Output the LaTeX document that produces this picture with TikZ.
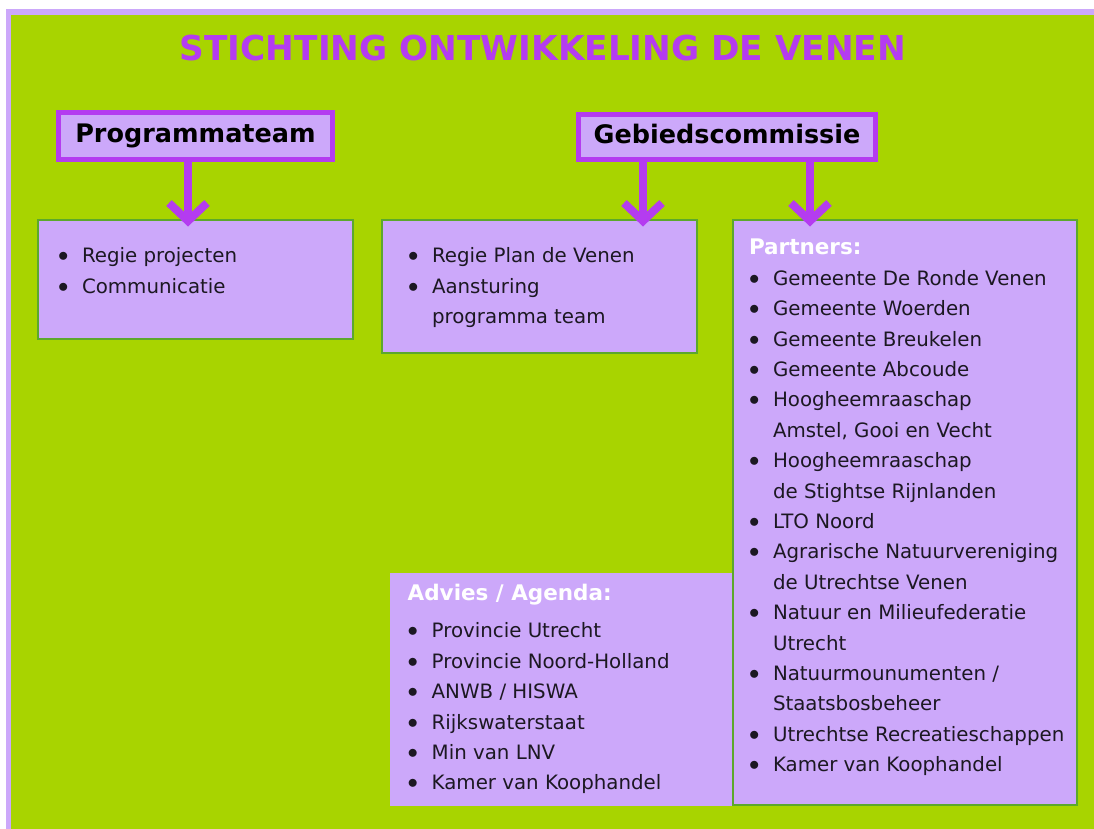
\documentclass[tikz,border=0pt]{standalone}
\usepackage{fontspec}
\setmainfont{DejaVu Sans}
\usepackage{xcolor}
\usetikzlibrary{arrows.meta, positioning}
\definecolor{venGreen}{HTML}{A8D400}
\definecolor{venLilac}{HTML}{CCA8FA}
\definecolor{venPurple}{HTML}{B43CF0}
\definecolor{venLeaf}{HTML}{5CA82C}
\definecolor{venInk}{HTML}{1C1822}
\newcommand{\bulitem}{\strut\makebox[24pt][l]{\raisebox{1pt}{$\bullet$}}}
\newcommand{\bulcont}{\strut\hspace*{24pt}}
\newcommand{\listhead}[1]{\strut{\fontsize{21.5}{30.4}\selectfont\bfseries\color{white}#1}}

\begin{document}
\begin{tikzpicture}[x=1pt, y=-1pt]
        % Styles
        \tikzstyle{banner} = [font=\fontsize{34.3}{40}\selectfont\bfseries, text=venPurple, inner sep=0pt]
        \tikzstyle{headbox} = [rectangle, draw=venPurple, line width=5pt, fill=venLilac, font=\fontsize{25.5}{30}\selectfont\bfseries, text=black, text height=14pt, text depth=0pt]
        \tikzstyle{listbox} = [rectangle, draw=venLeaf, line width=2pt, fill=venLilac]
        \tikzstyle{listtext} = [inner sep=0pt, outer sep=0pt, align=left, font=\fontsize{19.8}{30.4}\selectfont, text=venInk]
        \tikzstyle{bigarrow} = [line width=8pt, color=venPurple, -{Straight Barb[length=18pt, width=38pt]}, shorten >=-7.5pt]

        % Background
        \path[use as bounding box, fill=white] (0,0) rectangle (1094,829);
        \fill[venLilac] (6,9) rectangle (1094,829);
        \fill[venGreen] (11,15) rectangle (1094,829);

        % Nodes
        \node[banner, anchor=base] (title) at (543,60.7) {STICHTING ONTWIKKELING DE VENEN};

        \node[headbox, minimum width=274pt, minimum height=47pt] (prog) at (195.5,136) {Programmateam};
        \node[headbox, minimum width=297pt, minimum height=45.6pt] (gebied) at (727,137) {Gebiedscommissie};

        \node[listbox, minimum width=315pt, minimum height=119pt] (regie) at (195.5,279.5) {};
        \node[listbox, minimum width=315pt, minimum height=133pt] (sturing) at (539.5,286.5) {};
        \node[listbox, draw=none, minimum width=342pt, minimum height=233pt] (advies) at (561,689.5) {};
        \node[listbox, minimum width=344pt, minimum height=585pt] (partners) at (905,512.5) {};

        % Texts
        \node[listtext, below right=22.7pt and 21pt of regie.north west] (regietext) {\bulitem Regie projecten\\ \bulitem Communicatie};

        \node[listtext, below right=22.7pt and 27pt of sturing.north west] (sturingtext) {\bulitem Regie Plan de Venen\\ \bulitem Aansturing\\ \bulcont programma team};

        \node[listtext, below right=7.7pt and 18.7pt of advies.north west] (adviestext) {\listhead{Advies / Agenda:}\\[6.6pt]
                \bulitem Provincie Utrecht\\ \bulitem Provincie Noord-Holland\\ \bulitem ANWB / HISWA\\
                \bulitem Rijkswaterstaat\\ \bulitem Min van LNV\\ \bulitem Kamer van Koophandel};

        \node[listtext, below right=14.7pt and 17pt of partners.north west] (partnerstext) {\listhead{Partners:}\\
                \bulitem Gemeente De Ronde Venen\\ \bulitem Gemeente Woerden\\ \bulitem Gemeente Breukelen\\
                \bulitem Gemeente Abcoude\\ \bulitem Hoogheemraaschap\\ \bulcont Amstel, Gooi en Vecht\\
                \bulitem Hoogheemraaschap\\ \bulcont de Stightse Rijnlanden\\ \bulitem LTO Noord\\
                \bulitem Agrarische Natuurvereniging\\ \bulcont de Utrechtse Venen\\
                \bulitem Natuur en Milieufederatie\\ \bulcont Utrecht\\ \bulitem Natuurmounumenten /\\
                \bulcont Staatsbosbeheer\\ \bulitem Utrechtse Recreatieschappen\\ \bulitem Kamer van Koophandel};

        % Arrows
        \draw[bigarrow] ([xshift=-7.5pt]prog.south) -- ([xshift=-7.5pt]regie.north);
        \draw[bigarrow] ([xshift=-84pt]gebied.south) -- ([xshift=103.5pt]sturing.north);
        \draw[bigarrow] ([xshift=83pt]gebied.south) -- ([xshift=-95pt]partners.north);

\end{tikzpicture}
\end{document}
